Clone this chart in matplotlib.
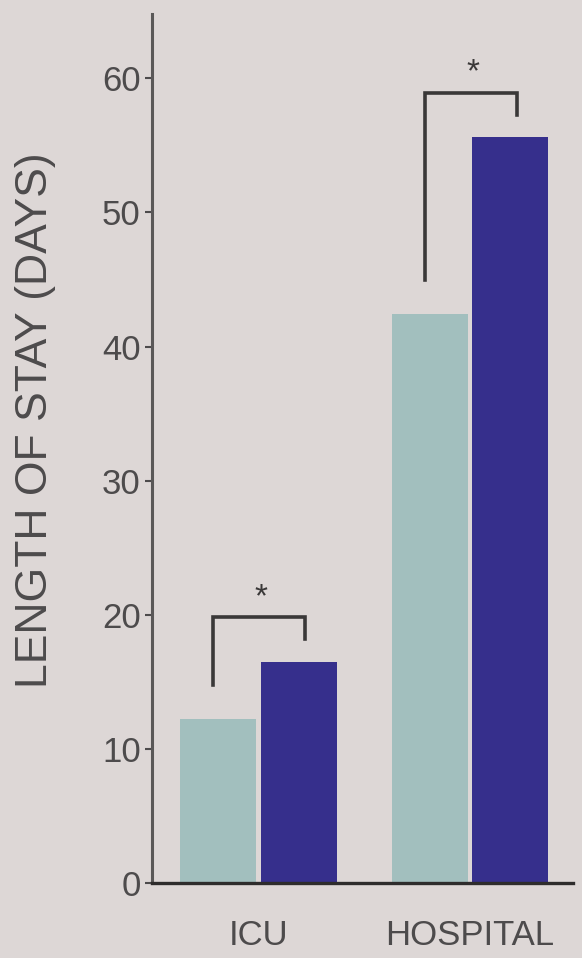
import numpy as np
import matplotlib.pyplot as plt

plt.rcParams['font.family'] = ['Liberation Sans', 'DejaVu Sans']

categories = ['ICU', 'HOSPITAL']
group_a = [12.2, 42.4]   # light bars
group_b = [16.5, 55.6]   # dark bars
yticks = [0, 10, 20, 30, 40, 50, 60]
sig_marks = ['*', '*']

bg = '#ddd7d6'
light = '#a2bfbe'
dark = '#362f8c'
ink = '#4d4b4c'

fig = plt.figure(figsize=(5.82, 9.58), dpi=100, facecolor=bg)
ax = fig.add_axes([0.261, 0.0783, 0.7235, 0.9071], facecolor=bg)

x = np.arange(len(categories))
w = 0.36
off = 0.19
ax.bar(x - off, group_a, width=w, color=light, zorder=2)
ax.bar(x + off, group_b, width=w, color=dark, zorder=2)

# significance brackets over each pair
for xi, a, b, m in zip(x, group_a, group_b, sig_marks):
    top = max(a, b) + 3.3
    xl, xr = xi - off - 0.025, xi + off + 0.03
    ax.plot([xl, xl, xr, xr], [a + 2.6, top, top, b + 1.7],
            color='#3a3838', lw=2.6, solid_joinstyle='miter', zorder=3)
    ax.text((xl + xr) / 2 + 0.01, top + 1.5, m, ha='center', va='center',
            fontsize=24, color='#3a3838')

ax.set_xlim(-0.504, 1.487)
ax.set_ylim(0, 64.8)
ax.set_yticks(yticks)
ax.set_yticklabels([str(t) for t in yticks], fontsize=25, color=ink)
ax.set_xticks(x)
ax.set_xticklabels(categories, fontsize=25, color=ink)
ax.tick_params(axis='y', length=5, width=1.5, color=ink, pad=3)
ax.tick_params(axis='x', length=0, pad=26)
ax.set_ylabel('LENGTH OF STAY (DAYS)', fontsize=32, color=ink)
ax.yaxis.set_label_coords(-0.228, 0.532)

for s in ['top', 'right']:
    ax.spines[s].set_visible(False)
ax.spines['left'].set_color('#5a5858')
ax.spines['left'].set_linewidth(2.2)
ax.spines['bottom'].set_color('#2e2c2c')
ax.spines['bottom'].set_linewidth(2.4)

fig.savefig('out.png', dpi=100, facecolor=bg)
